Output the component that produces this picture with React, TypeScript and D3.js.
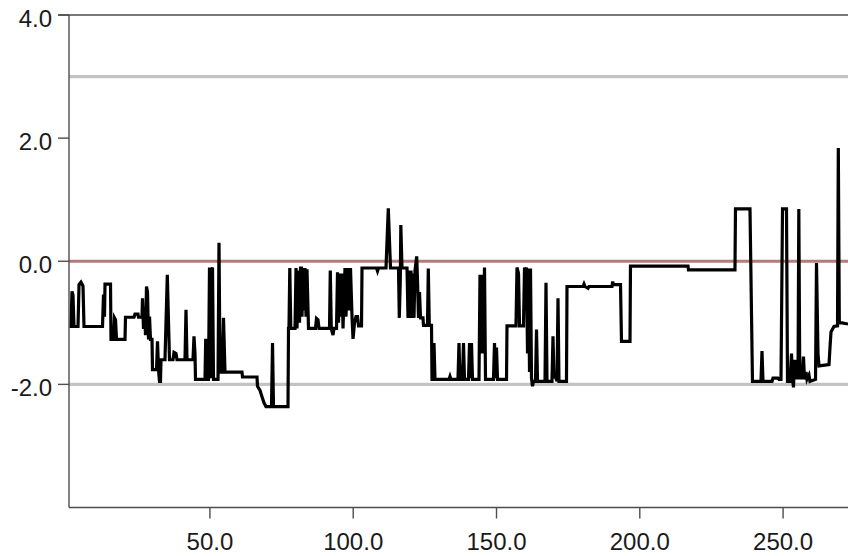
import React from "react";
import * as d3 from "d3";

const obs: number[] = [
  1.0, 1.52, 1.87, 2.22, 2.57, 3.97, 4.32, 5.01, 5.71, 6.06, 12.52, 12.86, 13.21, 13.39, 15.31, 15.48,
  16.35, 16.7, 17.05, 17.4, 20.37, 20.54, 23.51, 23.86, 24.9, 25.08, 26.3, 26.47, 26.82, 27.17, 27.52,
  27.87, 28.22, 28.57, 28.92, 29.26, 29.79, 29.96, 31.36, 31.71, 32.06, 32.4, 32.75, 32.93, 34.32, 35.13,
  35.89, 37.12, 37.46, 38.16, 38.51, 41.3, 41.65, 42.0, 44.09, 44.44, 44.79, 44.97, 48.28, 48.53, 48.81,
  49.5, 49.85, 50.2, 50.55, 50.9, 51.25, 52.82, 53.17, 53.52, 54.21, 54.74, 55.26, 61.19, 61.37, 66.43,
  66.6, 67.48, 68.17, 68.87, 69.57, 71.49, 71.84, 72.18, 77.24, 77.42, 77.59, 77.87, 78.22, 79.69, 80.04,
  80.38, 80.91, 81.26, 81.61, 81.96, 82.13, 82.48, 82.83, 83.18, 83.53, 83.87, 84.4, 86.84, 87.19, 87.71,
  88.06, 91.73, 92.0, 92.35, 92.95, 93.3, 94.17, 94.52, 94.87, 95.32, 95.74, 96.09, 96.44, 97.13, 97.48,
  98.01, 98.53, 99.05, 99.58, 99.93, 100.45, 100.97, 101.5, 101.85, 102.89, 103.07, 108.13, 108.48,
  108.83, 111.44, 112.24, 113.01, 115.8, 116.08, 116.43, 116.61, 117.02, 118.77, 119.12, 119.47, 119.82,
  120.17, 120.51, 120.86, 121.21, 121.56, 122.15, 122.43, 122.78, 123.13, 123.48, 124.35, 124.52, 125.92,
  126.2, 126.55, 127.32, 127.49, 127.84, 128.19, 128.54, 133.42, 133.77, 134.12, 136.56, 136.91, 137.26,
  138.13, 138.48, 138.83, 140.23, 140.58, 140.92, 141.27, 141.62, 143.89, 144.24, 144.59, 144.94, 145.29,
  145.81, 146.16, 148.95, 149.3, 149.65, 150.0, 150.35, 153.49, 153.66, 156.8, 157.15, 157.68, 158.03,
  159.42, 159.77, 160.12, 160.47, 160.82, 161.17, 161.52, 161.86, 162.21, 162.56, 162.91, 163.61, 163.96,
  164.31, 166.92, 167.27, 167.62, 169.36, 169.71, 170.06, 170.41, 171.11, 171.46, 171.8, 174.42, 174.6,
  180.18, 180.53, 180.88, 181.93, 182.27, 190.3, 190.54, 190.82, 193.27, 193.61, 196.58, 196.75, 216.81,
  216.99, 233.21, 233.39, 238.45, 239.32, 242.29, 242.64, 242.99, 246.13, 246.48, 248.22, 248.57, 249.27,
  249.8, 251.19, 251.54, 252.41, 252.94, 253.29, 253.63, 253.98, 254.33, 254.86, 255.21, 255.49, 255.83,
  256.25, 256.6, 257.12, 257.47, 257.99, 258.34, 259.04, 259.39, 261.31, 261.66, 262.18, 262.53, 266.02,
  266.37, 266.72, 267.76, 268.99, 269.27, 269.62, 270.56, 272.66,
];

const ratio: number[] = [
  -1.06, -1.06, -0.49, -0.55, -1.06, -1.06, -0.38, -0.34, -0.4, -1.06, -1.06, -0.54, -0.9, -0.37, -0.37, -1.27,
  -1.27, -0.92, -0.95, -1.27, -1.27, -0.91, -0.91, -0.86, -0.86, -0.91, -0.91, -0.6, -1.1, -0.75, -1.2,
  -0.41, -0.5, -1.27, -0.9, -1.27, -1.27, -1.76, -1.76, -1.3, -1.76, -1.95, -1.95, -1.6, -1.6, -0.22,
  -1.6, -1.6, -1.48, -1.5, -1.6, -1.6, -0.79, -1.6, -1.6, -1.22, -1.5, -1.92, -1.92, -1.26, -1.92,
  -1.92, -0.1, -1.9, -0.15, -0.1, -1.92, -1.92, 0.3, -1.8, -1.8, -0.92, -1.8, -1.8, -1.88, -1.88,
  -2.03, -2.1, -2.2, -2.3, -2.36, -2.36, -1.33, -2.36, -2.36, -1.09, -1.09, -0.11, -1.09, -1.09, -0.11,
  -1.09, -0.15, -1.0, -0.11, -0.11, -0.9, -0.11, -0.8, -0.11, -0.9, -0.13, -1.09, -1.09, -0.93, -0.95,
  -1.09, -1.09, -0.15, -1.1, -1.2, -1.09, -1.09, -0.18, -1.0, -0.2, -0.9, -0.2, -1.09, -0.11, -0.9,
  -0.11, -0.8, -0.11, -0.9, -1.26, -1.0, -0.9, -0.9, -1.05, -1.05, -0.11, -0.11, -0.16,
  -0.11, -0.11, 0.86, -0.11, -0.11, -0.92, -0.3, 0.59, -0.11, -0.11, -0.92, -0.15, -0.92,
  -0.15, -0.92, -0.2, -0.92, -0.15, 0.08, -0.3, -0.92, -0.5, -0.92, -0.92, -1.04, -1.04,
  -0.12, -1.04, -1.04, -1.92, -1.92, -1.33, -1.92, -1.92, -1.87, -1.92, -1.92, -1.33, -1.92,
  -1.92, -1.33, -1.92, -1.92, -1.33, -1.9, -1.33, -1.92, -1.92, -0.22, -1.5, -0.22, -1.5,
  -0.1, -1.92, -1.92, -1.33, -1.9, -1.4, -1.92, -1.92, -1.05, -1.05, -0.1, -0.2, -1.05,
  -1.05, -0.1, -0.8, -0.1, -1.5, -0.12, -1.8, -0.12, -1.9, -2.03, -1.95, -1.95, -1.11,
  -1.95, -1.95, -0.35, -1.95, -1.95, -1.22, -1.9, -1.85, -1.95, -0.6, -1.95, -1.95, -0.41,
  -0.41, -0.37, -0.41, -0.44, -0.41, -0.41, -0.33, -0.38, -0.38, -1.3, -1.3, -0.08, -0.08,
  -0.14, -0.14, 0.85, 0.85, -1.95, -1.95, -1.46, -1.95, -1.95, -1.9, -1.9, -1.92, -1.92,
  0.85, 0.85, -1.95, -1.95, -1.5, -1.9, -2.05, -1.6, -1.92, -1.6, -1.92, 0.85, -1.92,
  -1.7, -1.92, -1.55, -1.92, -1.8, -1.92, -1.85, -1.95, -1.92, -0.03, -1.5, -1.7, -1.68,
  -1.4, -1.15, -1.06, -1.05, 1.84, -1.0, -1.0, -1.02,
];

const xTicks: number[] = [50, 100, 150, 200, 250];
const yTicks: number[] = [4, 2, 0, -2];
const refLevels: { value: number; color: string }[] = [
  { value: 3, color: "#c3c3c3" },
  { value: -2, color: "#c3c3c3" },
  { value: 0, color: "#b57b7b" },
];

const W = 848;
const H = 556;
const left = 69;
const right = 849;
const top = 15;
const bottom = 507.5;

export default function App() {
  const x = d3.scaleLinear().domain([1, 273]).range([left + 0.5, right]);
  const y = d3.scaleLinear().domain([-4, 4]).range([bottom, top]);
  const pts = obs.map((o, i) => [o, ratio[i]] as [number, number]);
  const line = d3
    .line<[number, number]>()
    .x((d) => x(d[0]))
    .y((d) => y(d[1]));
  const f = d3.format(".1f");
  const fmt = (v: number) => f(v).replace("\u2212", "-");
  const axisColor = "#4d4d4d";
  const font = "'Liberation Sans', Arial, sans-serif";

  return (
    <svg
      width={W}
      height={H}
      style={{ position: "absolute", left: 0, top: 0, display: "block", background: "#fff" }}
    >
      <defs>
        <clipPath id="plot">
          <rect x={left} y={top} width={W - left} height={bottom - top} />
        </clipPath>
      </defs>
      {refLevels.map((r) => (
        <line
          key={r.value}
          x1={left}
          x2={W}
          y1={y(r.value)}
          y2={y(r.value)}
          stroke={r.color}
          strokeWidth={3.2}
        />
      ))}
      <path
        d={line(pts) || ""}
        fill="none"
        stroke="#000"
        strokeWidth={3.2}
        clipPath="url(#plot)"
      />
      {/* frame */}
      <line x1={58} x2={W} y1={top} y2={top} stroke={axisColor} strokeWidth={1.6} />
      <line x1={left} x2={left} y1={top} y2={bottom} stroke={axisColor} strokeWidth={1.4} />
      <line x1={left} x2={W} y1={bottom} y2={bottom} stroke={axisColor} strokeWidth={1.4} />
      {yTicks.map((t) => (
        <g key={t}>
          <line x1={58} x2={left} y1={y(t)} y2={y(t)} stroke={axisColor} strokeWidth={1.4} />
          <text
            x={52}
            y={y(t) + 12}
            textAnchor="end"
            fontFamily={font}
            fontSize={24}
            fill="#1a1a1a"
          >
            {fmt(t)}
          </text>
        </g>
      ))}
      {xTicks.map((t) => (
        <g key={t}>
          <line x1={x(t)} x2={x(t)} y1={bottom} y2={bottom + 11} stroke={axisColor} strokeWidth={1.4} />
          <text
            x={x(t)}
            y={550}
            textAnchor="middle"
            fontFamily={font}
            fontSize={24}
            fill="#1a1a1a"
          >
            {fmt(t)}
          </text>
        </g>
      ))}
    </svg>
  );
}
